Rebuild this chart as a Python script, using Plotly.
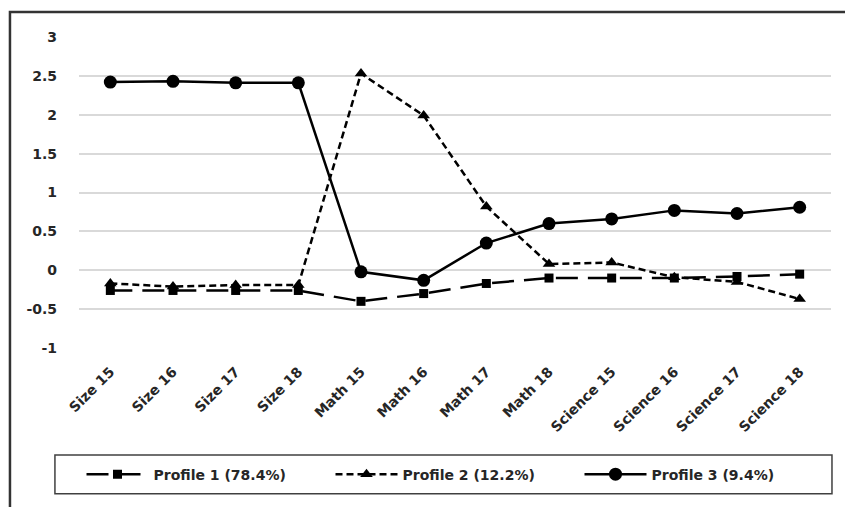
import plotly.graph_objects as go

categories = ["Size 15", "Size 16", "Size 17", "Size 18", "Math 15", "Math 16",
              "Math 17", "Math 18", "Science 15", "Science 16", "Science 17", "Science 18"]
profile1 = [-0.26, -0.26, -0.26, -0.26, -0.40, -0.30, -0.17, -0.10, -0.10, -0.10, -0.08, -0.05]
profile2 = [-0.17, -0.21, -0.19, -0.19, 2.53, 1.99, 0.82, 0.08, 0.10, -0.09, -0.15, -0.37]
profile3 = [2.42, 2.43, 2.41, 2.41, -0.02, -0.13, 0.35, 0.60, 0.66, 0.77, 0.73, 0.81]
names = ["Profile 1 (78.4%)", "Profile 2 (12.2%)", "Profile 3 (9.4%)"]
yticks = [-1, -0.5, 0, 0.5, 1, 1.5, 2, 2.5, 3]

FONT = "DejaVu Sans"
TXT = "#262626"
fig = go.Figure()
fig.add_trace(go.Scatter(x=categories, y=profile1, name=names[0], mode="lines+markers",
                         line=dict(color="black", width=2.5, dash="22px,10px"),
                         marker=dict(symbol="square", size=9, color="black")))
fig.add_trace(go.Scatter(x=categories, y=profile2, name=names[1], mode="lines+markers",
                         line=dict(color="black", width=2.5, dash="7px,4px"),
                         marker=dict(symbol="triangle-up", size=11, color="black")))
fig.add_trace(go.Scatter(x=categories, y=profile3, name=names[2], mode="lines+markers",
                         line=dict(color="black", width=2.5, dash="solid"),
                         marker=dict(symbol="circle", size=13, color="black")))

fig.update_layout(
    width=845, height=507,
    margin=dict(l=79, r=14, t=37, b=159, autoexpand=False),
    paper_bgcolor="white", plot_bgcolor="white",
    font=dict(family=FONT, size=13, color=TXT),
    showlegend=True,
    legend=dict(orientation="h", x=0.5, xanchor="center", y=-0.407, yanchor="middle",
                font=dict(family=FONT, size=14, color=TXT, weight="bold"),
                entrywidth=172, itemwidth=62, bgcolor="rgba(0,0,0,0)"),
    shapes=[
        dict(type="rect", xref="paper", yref="paper", x0=-0.0918, x1=1.08, y0=-0.75, y1=1.080,
             line=dict(color="#333333", width=2.5), fillcolor="rgba(0,0,0,0)", layer="below"),
        dict(type="rect", xref="paper", yref="paper", x0=-0.032, x1=1.0013, y0=-0.469, y1=-0.344,
             line=dict(color="#404040", width=1.5), fillcolor="rgba(0,0,0,0)", layer="below"),
    ],
)
fig.update_xaxes(showgrid=False, showline=False, zeroline=False, tickangle=-45,
                 automargin=False, ticklabelstandoff=12,
                 tickfont=dict(family=FONT, size=14, color=TXT, weight="bold"),
                 ticks="", range=[-0.5, 11.5])
fig.update_yaxes(range=[-1, 3], tickvals=yticks, ticktext=[str(v) for v in yticks],
                 showgrid=True, gridcolor="#d9d9d9", gridwidth=1.5, zeroline=False,
                 showline=False, ticks="", ticklabelstandoff=21, automargin=False,
                 tickfont=dict(family=FONT, size=14, color=TXT, weight="bold"))

fig.write_html("out.html", config={"displayModeBar": False},
               post_script="document.body.style.margin='0';document.body.style.overflow='hidden';")
